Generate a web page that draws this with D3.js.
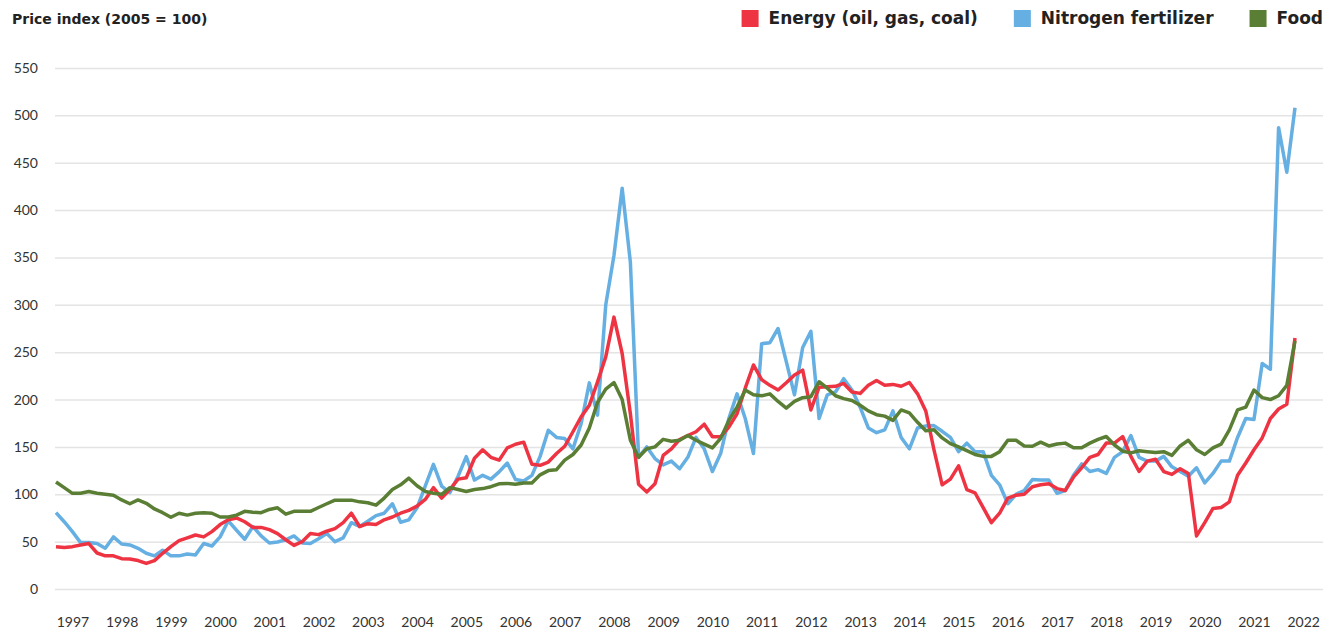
<!DOCTYPE html>
<html>
<head>
<meta charset="utf-8">
<script src="https://cdn.jsdelivr.net/npm/d3@7/dist/d3.min.js"></script>
<style>
  body { margin: 0; background: #fff; }
  .chart text { font-family: Lato, 'Open Sans', sans-serif; }
  .chart text.head { font-family: 'DejaVu Sans', 'Open Sans', sans-serif; }
</style>
</head>
<body>
<div class="chart"></div>
<script>
// one value every two months, Jan 1997 .. Mar 2022
const monthStep = 2;
const yearLabels = [1997, 1998, 1999, 2000, 2001, 2002, 2003, 2004, 2005, 2006, 2007, 2008, 2009,
  2010, 2011, 2012, 2013, 2014, 2015, 2016, 2017, 2018, 2019, 2020, 2021, 2022];
const yTicks = [0, 50, 100, 150, 200, 250, 300, 350, 400, 450, 500, 550];

const energy = [
  44.7, 43.7, 44.7, 46.5, 48, 38,
  35, 35, 32, 31.7, 30, 27,
  30, 37.7, 44.7, 51, 54, 57,
  55, 60.6, 68, 73, 75, 71,
  65, 65, 62.7, 58.5, 52, 46,
  50, 58.5, 57.4, 61, 63.8, 70,
  80, 66, 69, 68, 73, 76,
  80, 83, 87.5, 94.5, 107, 96,
  105, 116, 117.5, 138, 147, 139,
  136, 149, 152.8, 155, 131.7, 130.6,
  134, 143, 150.7, 166, 181.7, 194,
  218.7, 245, 287, 248.6, 185, 110.6,
  102.5, 111, 141, 148, 157.8, 162,
  166, 174, 160.7, 160.7, 171, 185,
  212, 236.5, 221, 215, 210, 217.8,
  226, 231, 189, 213, 213.6, 214,
  217, 208, 206.5, 215, 220, 215,
  216, 214, 218, 206, 188, 147,
  110, 116, 130, 105, 101.6, 86,
  70, 80, 96, 99, 100, 108,
  110, 111, 106, 104, 118, 128,
  139, 142, 154, 154, 161, 140,
  124, 135, 137, 124, 121, 127,
  122, 56, 70, 85, 86, 92,
  120, 133, 147, 159.5, 180, 190,
  195, 265
];

const nitrogen = [
  80.6, 71, 60.6, 49, 49, 48,
  43, 55, 47.5, 46.5, 43, 37.7,
  35, 41, 35, 35, 37, 36,
  48, 45.4, 55, 72, 62, 52.5,
  66, 56, 48.6, 49.6, 52, 56,
  48.6, 48, 53, 58.5, 50, 54,
  70, 66, 71.5, 77.5, 80, 90,
  70.5, 73, 85.7, 108.6, 131.6, 108.6,
  101.6, 119, 139.7, 115, 120, 116,
  123.6, 133, 115.5, 114, 120, 140,
  167.6, 160, 158.8, 148, 174.6, 217.6,
  183.5, 300, 352, 423, 345, 139,
  150, 137.7, 131, 135, 127, 139,
  160, 148, 124, 143, 180, 206,
  180, 143, 259, 260, 275, 240,
  205, 255, 272, 180, 205, 208,
  222, 210, 192, 170, 165, 168,
  188, 160, 148, 170, 172, 172.5,
  166.5, 160, 145, 154, 145, 145,
  120, 110, 90, 100, 104, 115.6,
  115, 115, 101, 104, 120, 132,
  124, 126, 122, 139, 145, 162,
  139, 135, 135, 140, 129, 124,
  119, 128, 112, 122, 135, 135,
  160, 180, 179, 238, 232, 487,
  440, 508
];

const food = [
  113, 107, 101, 101, 103, 101,
  100, 99, 94, 90, 94, 90.5,
  84.5, 80.6, 75.7, 80, 78, 80,
  80.6, 80, 76, 76, 78, 82,
  81, 80.6, 84, 85.7, 79, 82,
  82, 82, 86, 90, 93.8, 93.8,
  93.8, 92, 91, 88.5, 96, 105,
  110, 117, 109, 103, 101, 100,
  107, 105, 103, 105, 106, 108,
  111, 111.5, 110.6, 112, 112, 120.5,
  125, 126, 136, 142, 152, 170,
  197, 211, 218, 200, 157, 139,
  148, 150, 158, 156, 157, 162,
  157, 153, 149, 159, 178, 192,
  210, 205, 204, 206, 198, 191,
  198, 202, 203, 218.8, 212, 204,
  201, 199, 194, 188, 184, 182.5,
  178, 189, 186, 176, 167, 168,
  159.5, 153.5, 150, 146, 142, 140,
  140, 145, 157, 157, 151, 150.7,
  155, 151, 153, 154, 149, 149,
  154, 158, 161, 152, 145.5, 143.7,
  146, 145, 144, 145, 141, 151,
  157, 147, 142, 149, 153, 168,
  189, 192, 210, 202, 200, 204,
  215, 262
];

const seriesNames = ['Energy (oil, gas, coal)', 'Nitrogen fertilizer', 'Food'];
const seriesColors = ['#ee3443', '#65afe2', '#5b7e35'];

const width = 1332;
const height = 630;
const plotLeft = 55;
const plotRight = 1323;

const svg = d3.select('.chart').append('svg')
    .attr('width', width)
    .attr('height', height);

const xScale = d3.scaleLinear()
    .domain([0, (energy.length - 1) * monthStep])
    .range([56, 1295]);

const yScale = d3.scaleLinear()
    .domain([0, 550])
    .range([589, 68]);

// gridlines
const grid = svg.append('g')
    .attr('transform', `translate(${plotLeft},0)`)
    .call(d3.axisLeft(yScale).tickValues(yTicks).tickSize(-(plotRight - plotLeft)).tickFormat(''));
grid.select('.domain').remove();
grid.selectAll('line').attr('stroke', '#e4e4e4').attr('stroke-width', 1.5);

// y labels
const yAxis = svg.append('g')
    .attr('transform', `translate(${plotLeft},0)`)
    .call(d3.axisLeft(yScale).tickValues(yTicks).tickSize(0).tickPadding(17));
yAxis.select('.domain').remove();
yAxis.selectAll('text').attr('font-size', 14).attr('fill', '#333');

// x labels, placed a few months into each year like the original
const xAxis = svg.append('g')
    .attr('transform', 'translate(0,611)')
    .call(d3.axisBottom(xScale)
      .tickValues(yearLabels.map(yr => (yr - 1997) * 12 + 4))
      .tickFormat((d, i) => yearLabels[i])
      .tickSize(0)
      .tickPadding(6));
xAxis.select('.domain').remove();
xAxis.selectAll('text').attr('font-size', 14).attr('fill', '#333');

const line = d3.line()
    .x((d, i) => xScale(i * monthStep))
    .y(d => yScale(d));

// blue first, red, then green on top
[[nitrogen, seriesColors[1]], [energy, seriesColors[0]], [food, seriesColors[2]]].forEach(([values, color]) => {
  svg.append('path')
      .datum(values)
      .attr('fill', 'none')
      .attr('stroke', color)
      .attr('stroke-width', 3.5)
      .attr('stroke-linejoin', 'round')
      .attr('d', line);
});

// title
svg.append('text')
    .attr('class', 'head')
    .attr('x', 12)
    .attr('y', 24)
    .attr('font-size', 14)
    .attr('font-weight', 700)
    .attr('fill', '#222')
    .text('Price index (2005 = 100)');

// legend, laid out from the right edge
const legend = svg.append('g');
let right = plotRight;
for (let i = seriesNames.length - 1; i >= 0; i--) {
  const t = legend.append('text')
      .attr('class', 'head')
      .attr('y', 24)
      .attr('font-size', 17)
      .attr('font-weight', 700)
      .attr('fill', '#222')
      .text(seriesNames[i]);
  const w = t.node().getComputedTextLength();
  t.attr('x', right - w);
  legend.append('rect')
      .attr('x', right - w - 27)
      .attr('y', 10)
      .attr('width', 17)
      .attr('height', 17)
      .attr('fill', seriesColors[i]);
  right = right - w - 27 - 36;
}
</script>
</body>
</html>
